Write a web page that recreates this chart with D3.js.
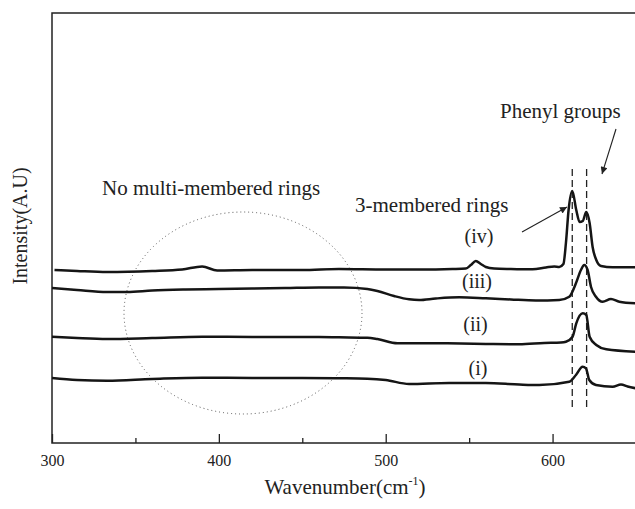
<!DOCTYPE html>
<html><head><meta charset="utf-8">
<script src="https://cdn.jsdelivr.net/npm/d3@7"></script>
<style>html,body{margin:0;padding:0;background:#fff;}svg{display:block;font-family:"Liberation Serif","Times New Roman",serif;}svg text{font-family:"Liberation Serif","Times New Roman",serif !important;}</style>
</head><body><div id="chart"></div>
<script>
// Wavenumber ticks
const xTicksMajor = [300, 400, 500, 600];
const xTicksMinor = [350, 450, 550];
const seriesLabels = ["(iv)", "(iii)", "(ii)", "(i)"];
// [wavenumber, intensity (A.U.)]
const spectrumIV = [[301.5,173],[315,172],[333,171],[360,172],[378,173.5],[390,176.5],[399,172.5],[420,173],[450,173],[472,174],[500,173.5],[520,173.5],[540,174],[548,174.5],[551,178],[554,182],[557,179],[560,176],[565,174.5],[575,174],[588,173.7],[596,175.5],[601,176.5],[604,176],[606.5,179],[608,200],[609.6,233],[611.8,252],[614.2,233],[616.2,221],[618.1,222],[620.2,231],[622.2,220],[624,196],[626.2,183],[629,177],[636,175.7],[650,175.7]];
const spectrumIII = [[300,155],[315,153],[333,151],[345,151],[360,152.5],[380,153.5],[400,154],[420,154.5],[440,155],[460,155.5],[475,155.5],[489,154],[495,152],[505,147],[514,143.7],[520,143],[530,144.5],[544,145.7],[560,144.7],[575,143.5],[590,142.5],[604,143],[610,146.3],[614,159.7],[617,173],[619,178],[621,173],[623,156.3],[626,146.3],[630,141.3],[635,144],[640,141.3],[650,139.7]];
const spectrumII = [[300,106.3],[315,105],[333,104],[360,105],[390,106.3],[420,106],[460,106],[472,105.7],[489,105.3],[495,104],[507,99.7],[528,99.7],[545,99.5],[560,99],[580,98.7],[595,100],[605,100.5],[608,101.3],[612,106.3],[614.2,119.7],[618.1,129.7],[620.2,128],[622.2,106.3],[626.2,98],[632.2,93.7],[650,91.3]];
const spectrumI = [[300,65],[315,63],[333,62.3],[360,64],[390,65.3],[420,65],[450,65],[472,64.7],[489,64.3],[500,63],[514,59],[538,60],[560,60],[580,58.5],[592,58],[610,61.3],[614,68],[618,76.3],[620,74.7],[622,63],[626,58],[636,56.3],[641,58.5],[645,56.5],[650,54.7]];
const spectra = [spectrumIV, spectrumIII, spectrumII, spectrumI];
const labelPos = [[479,200],[477,155],[475.5,112],[478,68]];
const dashedMarks = [611.8, 620.4];

const W = 635, H = 509;
const svg = d3.select("#chart").append("svg").attr("width", W).attr("height", H);
const x = d3.scaleLinear().domain([300, 650]).range([52, 636]);
const y = d3.scaleLinear().domain([0, 430]).range([443, 13]);
const FONT = "Liberation Serif, Times New Roman, serif";

// frame
svg.append("rect").attr("x", 52).attr("y", 13).attr("width", 636 - 52).attr("height", 443 - 13)
  .attr("fill", "none").attr("stroke", "#222").attr("stroke-width", 1.5);

// x axis
const ax = svg.append("g").attr("transform", "translate(0,443)");
ax.call(d3.axisBottom(x).tickValues(xTicksMajor).tickSize(-9).tickPadding(12).tickFormat(d3.format("d")));
ax.attr("font-family", FONT).attr("font-size", 16);
ax.select(".domain").remove();
ax.selectAll(".tick line").attr("stroke", "#222").attr("stroke-width", 1.3);
ax.selectAll(".tick text").attr("fill", "#222").style("font-family", FONT).style("font-size", "16px");
const axm = svg.append("g").attr("transform", "translate(0,443)");
axm.call(d3.axisBottom(x).tickValues(xTicksMinor).tickSize(-5).tickFormat(""));
axm.select(".domain").remove();
axm.selectAll(".tick line").attr("stroke", "#222").attr("stroke-width", 1.3);

// axis titles
const xt = svg.append("text").attr("x", 345).attr("y", 494).attr("text-anchor", "middle")
  .attr("font-size", 21).attr("fill", "#222");
xt.append("tspan").text("Wavenumber(cm");
xt.append("tspan").attr("font-size", 12).attr("dy", -9).text("-1");
xt.append("tspan").attr("dy", 9).text(")");
svg.append("text").attr("transform", "translate(27,226) rotate(-90)").attr("text-anchor", "middle")
  .attr("font-size", 20).attr("fill", "#222").text("Intensity(A.U)");

// dotted ellipse
svg.append("ellipse").attr("cx", 243).attr("cy", 313).attr("rx", 119).attr("ry", 101)
  .attr("fill", "none").attr("stroke", "#555").attr("stroke-width", 1).attr("stroke-dasharray", "1,3");

// dashed lines
dashedMarks.forEach(v => {
  svg.append("line").attr("x1", x(v)).attr("x2", x(v)).attr("y1", 169).attr("y2", 411)
    .attr("stroke", "#222").attr("stroke-width", 1.3).attr("stroke-dasharray", "7,4");
});

// spectra
const line = d3.line().x(d => x(d[0])).y(d => y(d[1])).curve(d3.curveMonotoneX);
spectra.forEach(s => {
  svg.append("path").datum(s).attr("d", line).attr("fill", "none")
    .attr("stroke", "#151515").attr("stroke-width", 2.5).attr("stroke-linejoin", "round");
});

// series labels
seriesLabels.forEach((t, i) => {
  svg.append("text").attr("x", labelPos[i][0]).attr("y", y(labelPos[i][1])).attr("text-anchor", "middle")
    .attr("font-size", 20).attr("fill", "#222").text(t);
});

// annotations
svg.append("text").attr("x", 102).attr("y", 195).attr("font-size", 21).attr("fill", "#222").text("No multi-membered rings");
svg.append("text").attr("x", 355).attr("y", 212).attr("font-size", 21).attr("fill", "#222").text("3-membered rings");
svg.append("text").attr("x", 500).attr("y", 118).attr("font-size", 21).attr("fill", "#222").text("Phenyl groups");

// arrows
const defs = svg.append("defs");
defs.append("marker").attr("id", "ah").attr("viewBox", "0 0 10 10").attr("refX", 10).attr("refY", 5)
  .attr("markerWidth", 9).attr("markerHeight", 7).attr("markerUnits", "userSpaceOnUse").attr("orient", "auto")
  .append("path").attr("d", "M0,0 L10,5 L0,10 z").attr("fill", "#222");
svg.append("line").attr("x1", 522).attr("y1", 232).attr("x2", 567).attr("y2", 207)
  .attr("stroke", "#222").attr("stroke-width", 1.1).attr("marker-end", "url(#ah)");
svg.append("line").attr("x1", 616).attr("y1", 129).attr("x2", 602).attr("y2", 174)
  .attr("stroke", "#222").attr("stroke-width", 1.1).attr("marker-end", "url(#ah)");
</script></body></html>
